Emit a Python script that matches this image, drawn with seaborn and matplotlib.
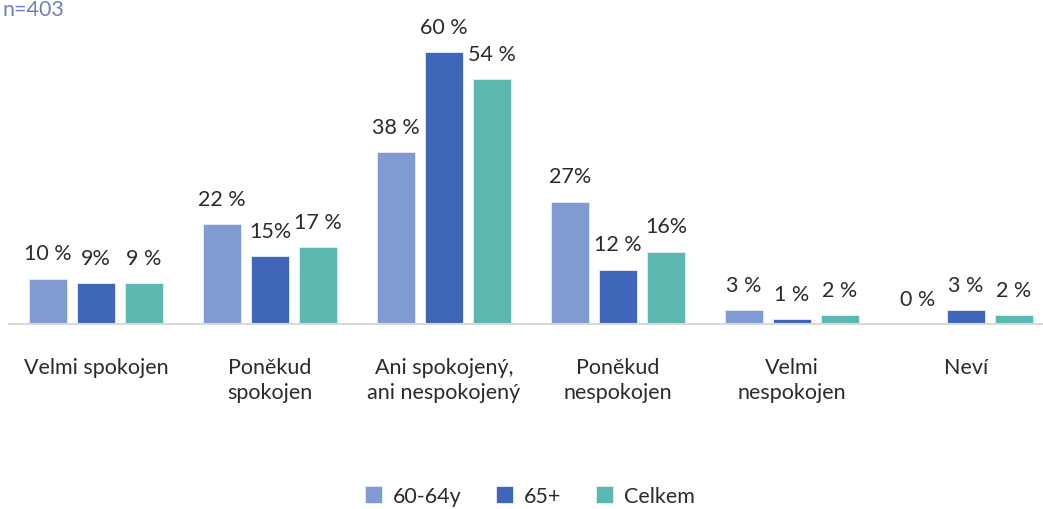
import pandas as pd
import matplotlib
matplotlib.use('Agg')
import matplotlib.pyplot as plt
import seaborn as sns

categories = ['Velmi spokojen', 'Poněkud\nspokojen', 'Ani spokojený,\nani nespokojený',
              'Poněkud\nnespokojen', 'Velmi\nnespokojen', 'Neví']
series = ['60-64y', '65+', 'Celkem']
vals_6064 = [10, 22, 38, 27, 3, 0]
vals_65 = [9, 15, 60, 12, 1, 3]
vals_celkem = [9, 17, 54, 16, 2, 2]
labels_6064 = ['10 %', '22 %', '38 %', '27%', '3 %', '0 %']
labels_65 = ['9%', '15%', '60 %', '12 %', '1 %', '3 %']
labels_celkem = ['9 %', '17 %', '54 %', '16%', '2 %', '2 %']
colors = ['#7f9bd2', '#3f66b8', '#5bb8b0']

df = pd.DataFrame({
    'kategorie': categories * 3,
    'skupina': [s for s in series for _ in categories],
    'hodnota': vals_6064 + vals_65 + vals_celkem,
})

sns.set_theme(style='white')
plt.rcParams['font.family'] = ['Lato', 'DejaVu Sans']
fs = 15.5
txt = '#2b2b2b'

fig = plt.figure(figsize=(10.43, 5.10), dpi=100)
ax = fig.add_axes([9 / 1043, 1 - 325 / 510, 1044 / 1043, 315 / 510])

sns.barplot(data=df, x='kategorie', y='hodnota', hue='skupina', palette=colors,
            saturation=1, width=0.828, gap=0.21, edgecolor='#e8eef8', linewidth=0.6, ax=ax)

ax.set_ylim(0, 315 / 4.53)
ax.set_xlim(-0.5, 5.5)

for cont, labs in zip(ax.containers, [labels_6064, labels_65, labels_celkem]):
    ax.bar_label(cont, labels=labs, padding=11, fontsize=fs, color=txt)

ax.set_xlabel('')
ax.set_ylabel('')
ax.set_yticks([])
ax.tick_params(axis='x', length=0, pad=24, labelsize=fs, labelcolor=txt)
for lab in ax.get_xticklabels():
    lab.set_verticalalignment('top')
    lab.set_linespacing(1.3)
for s in ['top', 'right', 'left']:
    ax.spines[s].set_visible(False)
ax.spines['bottom'].set_color('#d9d9d9')
ax.spines['bottom'].set_linewidth(1.5)

ax.legend_.remove()
handles, lbls = ax.get_legend_handles_labels()
fig.legend(handles, lbls, loc='center', bbox_to_anchor=(530 / 1043, 1 - 497 / 510),
           ncol=3, frameon=False, fontsize=fs, handlelength=0.8, handleheight=0.8,
           handletextpad=0.5, columnspacing=1.6, labelcolor=txt)

fig.text(0.002, 1 - 16 / 510, 'n=403', color='#7080c0', fontsize=fs, va='baseline')

fig.savefig('out.png', dpi=100)
